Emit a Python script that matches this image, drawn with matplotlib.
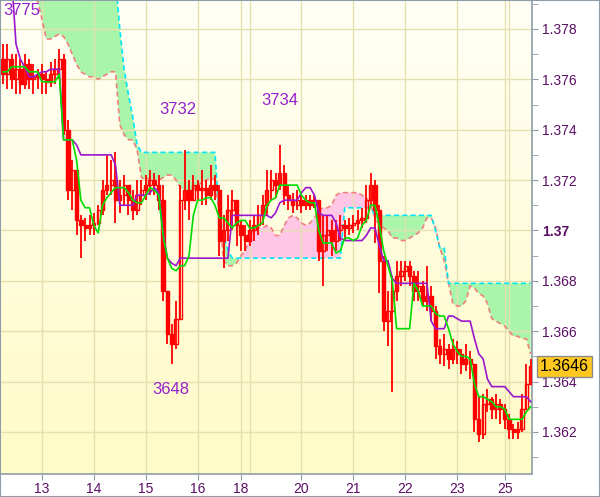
import numpy as np
import matplotlib.pyplot as plt
from matplotlib.transforms import blended_transform_factory
from matplotlib.colors import LinearSegmentedColormap
from matplotlib.patches import Rectangle

plt.rcParams['font.family'] = ['Liberation Sans', 'DejaVu Sans']

# trading days on screen and how many 2-hour bars each one has
days = [12, 13, 14, 15, 16, 18, 19, 20, 21, 22, 23, 25, 26]
bars_per_day = [9, 12, 12, 12, 10, 2, 12, 12, 12, 12, 11, 1, 6]
shown_days = [13, 14, 15, 16, 18, 20, 21, 22, 23, 25]

first_open = 1.3768
close = [
    1.3762, 1.3768, 1.3760, 1.3764, 1.3758, 1.3766, 1.3760, 1.3761, 1.3762, 1.3760,
    1.3759, 1.3762, 1.3764, 1.3768, 1.3740, 1.3716, 1.3724, 1.3704, 1.3702, 1.3701,
    1.3702, 1.3703, 1.3708, 1.3716, 1.3718, 1.3720, 1.3712, 1.3714, 1.3718, 1.3712,
    1.3708, 1.3714, 1.3716, 1.3718, 1.3720, 1.3718, 1.3712, 1.3676, 1.3659, 1.3655,
    1.3665, 1.3712, 1.3716, 1.3712, 1.3718, 1.3716, 1.3717, 1.3714, 1.3718, 1.3716,
    1.3696, 1.3700, 1.3708, 1.3712, 1.3702, 1.3698, 1.3696, 1.3700, 1.3702, 1.3706,
    1.3710, 1.3716, 1.3720, 1.3718, 1.3723, 1.3714, 1.3712, 1.3710, 1.3712, 1.3710,
    1.3712, 1.3710, 1.3712, 1.3692, 1.3698, 1.3700, 1.3696, 1.3700, 1.3702, 1.3701,
    1.3702, 1.3703, 1.3704, 1.3705, 1.3712, 1.3718, 1.3708, 1.3688, 1.3664, 1.3668,
    1.3676, 1.3682, 1.3684, 1.3686, 1.3682, 1.3676, 1.3678, 1.3672, 1.3674, 1.3668,
    1.3654, 1.3651, 1.3653, 1.3649, 1.3653, 1.3651, 1.3647, 1.3649, 1.3647, 1.3625,
    1.3619, 1.3631, 1.3633, 1.3629, 1.3631, 1.3629, 1.3625, 1.3621, 1.3620, 1.3621,
    1.3629, 1.3639, 1.3646]
high = [
    1.3774, 1.3774, 1.3770, 1.3770, 1.3768, 1.3770, 1.3768, 1.3766, 1.3764, 1.3766,
    1.3763, 1.3767, 1.3768, 1.3772, 1.3770, 1.3744, 1.3728, 1.3722, 1.3706, 1.3705,
    1.3706, 1.3707, 1.3710, 1.3720, 1.3730, 1.3728, 1.3731, 1.3720, 1.3722, 1.3718,
    1.3716, 1.3720, 1.3720, 1.3722, 1.3724, 1.3723, 1.3722, 1.3718, 1.3676, 1.3663,
    1.3672, 1.3718, 1.3732, 1.3720, 1.3722, 1.3720, 1.3724, 1.3720, 1.3726, 1.3722,
    1.3718, 1.3706, 1.3714, 1.3716, 1.3712, 1.3704, 1.3702, 1.3704, 1.3706, 1.3710,
    1.3714, 1.3724, 1.3724, 1.3723, 1.3734, 1.3726, 1.3718, 1.3715, 1.3716, 1.3714,
    1.3714, 1.3714, 1.3714, 1.3712, 1.3706, 1.3706, 1.3704, 1.3704, 1.3706, 1.3704,
    1.3705, 1.3706, 1.3708, 1.3709, 1.3718, 1.3723, 1.3720, 1.3710, 1.3690, 1.3676,
    1.3682, 1.3688, 1.3688, 1.3688, 1.3688, 1.3684, 1.3684, 1.3680, 1.3686, 1.3678,
    1.3670, 1.3657, 1.3659, 1.3655, 1.3657, 1.3656, 1.3653, 1.3655, 1.3652, 1.3647,
    1.3634, 1.3635, 1.3637, 1.3634, 1.3635, 1.3633, 1.3631, 1.3627, 1.3623, 1.3624,
    1.3635, 1.3647, 1.3649]
low = [
    1.3758, 1.3756, 1.3756, 1.3754, 1.3754, 1.3756, 1.3756, 1.3754, 1.3756, 1.3754,
    1.3754, 1.3757, 1.3758, 1.3760, 1.3738, 1.3712, 1.3708, 1.3698, 1.3689, 1.3696,
    1.3698, 1.3698, 1.3702, 1.3706, 1.3714, 1.3714, 1.3703, 1.3707, 1.3710, 1.3706,
    1.3704, 1.3706, 1.3710, 1.3712, 1.3714, 1.3714, 1.3708, 1.3672, 1.3655, 1.3647,
    1.3653, 1.3665, 1.3708, 1.3704, 1.3712, 1.3712, 1.3710, 1.3710, 1.3712, 1.3712,
    1.3690, 1.3685, 1.3696, 1.3700, 1.3694, 1.3692, 1.3692, 1.3694, 1.3696, 1.3698,
    1.3702, 1.3706, 1.3712, 1.3713, 1.3716, 1.3710, 1.3708, 1.3707, 1.3708, 1.3707,
    1.3708, 1.3708, 1.3709, 1.3688, 1.3678, 1.3692, 1.3690, 1.3692, 1.3696, 1.3696,
    1.3698, 1.3699, 1.3700, 1.3701, 1.3703, 1.3710, 1.3695, 1.3675, 1.3660, 1.3654,
    1.3636, 1.3672, 1.3678, 1.3680, 1.3678, 1.3672, 1.3672, 1.3670, 1.3668, 1.3664,
    1.3649, 1.3647, 1.3646, 1.3645, 1.3647, 1.3647, 1.3643, 1.3644, 1.3641, 1.3620,
    1.3616, 1.3617, 1.3628, 1.3625, 1.3625, 1.3623, 1.3621, 1.3617, 1.3617, 1.3617,
    1.3620, 1.3629, 1.3639]

# ichimoku lines
tenkan = [
    1.3763, 1.3763, 1.3765, 1.3765, 1.3765, 1.3765, 1.3763, 1.3763, 1.3763, 1.3759,
    1.3759, 1.3759, 1.3759, 1.3762, 1.3736, 1.3736, 1.3736, 1.3728, 1.3712, 1.3709,
    1.3709, 1.3702, 1.3699, 1.3710, 1.3713, 1.3715, 1.3717, 1.3717, 1.3717, 1.3715,
    1.3712, 1.3711, 1.3711, 1.3714, 1.3717, 1.3716, 1.3714, 1.3698, 1.3689, 1.3685,
    1.3684, 1.3686, 1.3686, 1.3690, 1.3706, 1.3712, 1.3712, 1.3713, 1.3713, 1.3710,
    1.3705, 1.3705, 1.3703, 1.3701, 1.3703, 1.3704, 1.3704, 1.3701, 1.3701, 1.3702,
    1.3703, 1.3710, 1.3712, 1.3713, 1.3718, 1.3718, 1.3718, 1.3718, 1.3718, 1.3714,
    1.3712, 1.3711, 1.3711, 1.3700, 1.3695, 1.3695, 1.3695, 1.3691, 1.3692, 1.3697,
    1.3697, 1.3696, 1.3697, 1.3702, 1.3704, 1.3710, 1.3710, 1.3702, 1.3692, 1.3686,
    1.3680, 1.3661, 1.3661, 1.3661, 1.3661, 1.3679, 1.3676, 1.3670, 1.3670, 1.3670,
    1.3667, 1.3666, 1.3666, 1.3661, 1.3655, 1.3652, 1.3650, 1.3650, 1.3649, 1.3639,
    1.3634, 1.3634, 1.3633, 1.3632, 1.3630, 1.3630, 1.3629, 1.3625, 1.3625, 1.3625,
    1.3625, 1.3628, 1.3630]
kijun = [
    1.3800, 1.3800, 1.3800, 1.3774, 1.3768, 1.3765, 1.3761, 1.3761, 1.3762, 1.3763,
    1.3763, 1.3764, 1.3764, 1.3764, 1.3736, 1.3736, 1.3736, 1.3734, 1.3730, 1.3730,
    1.3730, 1.3730, 1.3730, 1.3730, 1.3730, 1.3730, 1.3726, 1.3710, 1.3710, 1.3710,
    1.3710, 1.3714, 1.3714, 1.3714, 1.3715, 1.3717, 1.3715, 1.3699, 1.3689, 1.3687,
    1.3686, 1.3689, 1.3689, 1.3689, 1.3689, 1.3689, 1.3689, 1.3689, 1.3689, 1.3689,
    1.3689, 1.3689, 1.3689, 1.3706, 1.3706, 1.3706, 1.3706, 1.3706, 1.3706, 1.3706,
    1.3706, 1.3706, 1.3705, 1.3707, 1.3711, 1.3712, 1.3712, 1.3712, 1.3712, 1.3715,
    1.3717, 1.3717, 1.3714, 1.3707, 1.3706, 1.3706, 1.3706, 1.3703, 1.3697, 1.3696,
    1.3696, 1.3696, 1.3696, 1.3696, 1.3698, 1.3701, 1.3701, 1.3694, 1.3688, 1.3688,
    1.3681, 1.3679, 1.3679, 1.3679, 1.3679, 1.3679, 1.3679, 1.3679, 1.3679, 1.3664,
    1.3661, 1.3661, 1.3661, 1.3666, 1.3666, 1.3665, 1.3664, 1.3664, 1.3664, 1.3657,
    1.3651, 1.3649, 1.3641, 1.3638, 1.3638, 1.3638, 1.3638, 1.3636, 1.3634, 1.3634,
    1.3634, 1.3634, 1.3632]
span_a = [
    1.3800, 1.3800, 1.3800, 1.3800, 1.3800, 1.3800, 1.3800, 1.3800, 1.3791, 1.3784,
    1.3776, 1.3776, 1.3777, 1.3778, 1.3777, 1.3774, 1.3770, 1.3766, 1.3763, 1.3762,
    1.3761, 1.3761, 1.3760, 1.3761, 1.3762, 1.3763, 1.3763, 1.3742, 1.3738, 1.3736,
    1.3736, 1.3732, 1.3721, 1.3720, 1.3721, 1.3719, 1.3720, 1.3721, 1.3722, 1.3722,
    1.3720, 1.3717, 1.3716, 1.3715, 1.3716, 1.3718, 1.3719, 1.3720, 1.3721, 1.3720,
    1.3706, 1.3688, 1.3686, 1.3686, 1.3687, 1.3690, 1.3692, 1.3697, 1.3701, 1.3701,
    1.3701, 1.3702, 1.3701, 1.3698, 1.3698, 1.3702, 1.3705, 1.3706, 1.3705, 1.3703,
    1.3702, 1.3703, 1.3705, 1.3708, 1.3709, 1.3709, 1.3710, 1.3714, 1.3715, 1.3715,
    1.3715, 1.3715, 1.3715, 1.3714, 1.3713, 1.3710, 1.3705, 1.3702, 1.3701, 1.3700,
    1.3697, 1.3697, 1.3696, 1.3696, 1.3697, 1.3698, 1.3699, 1.3701, 1.3705, 1.3705,
    1.3701, 1.3693, 1.3688, 1.3679, 1.3671, 1.3670, 1.3670, 1.3672, 1.3678, 1.3677,
    1.3675, 1.3674, 1.3671, 1.3665, 1.3664, 1.3663, 1.3662, 1.3660, 1.3658, 1.3658,
    1.3657, 1.3657, 1.3651]
span_b = [
    1.3800, 1.3800, 1.3800, 1.3800, 1.3800, 1.3800, 1.3800, 1.3800, 1.3800, 1.3800,
    1.3800, 1.3800, 1.3800, 1.3800, 1.3800, 1.3800, 1.3800, 1.3800, 1.3800, 1.3800,
    1.3800, 1.3800, 1.3800, 1.3800, 1.3800, 1.3800, 1.3800, 1.3780, 1.3764, 1.3754,
    1.3745, 1.3734, 1.3731, 1.3731, 1.3731, 1.3731, 1.3731, 1.3731, 1.3731, 1.3731,
    1.3731, 1.3731, 1.3731, 1.3731, 1.3731, 1.3731, 1.3731, 1.3731, 1.3731, 1.3731,
    1.3706, 1.3698, 1.3692, 1.3689, 1.3689, 1.3689, 1.3689, 1.3689, 1.3689, 1.3689,
    1.3689, 1.3689, 1.3689, 1.3689, 1.3689, 1.3689, 1.3689, 1.3689, 1.3689, 1.3689,
    1.3689, 1.3689, 1.3689, 1.3689, 1.3689, 1.3689, 1.3689, 1.3689, 1.3689, 1.3709,
    1.3709, 1.3709, 1.3709, 1.3709, 1.3709, 1.3709, 1.3706, 1.3706, 1.3706, 1.3706,
    1.3706, 1.3706, 1.3706, 1.3706, 1.3706, 1.3706, 1.3706, 1.3706, 1.3706, 1.3706,
    1.3700, 1.3693, 1.3693, 1.3679, 1.3679, 1.3679, 1.3679, 1.3679, 1.3679, 1.3679,
    1.3679, 1.3679, 1.3679, 1.3679, 1.3679, 1.3679, 1.3679, 1.3679, 1.3679, 1.3679,
    1.3679, 1.3679, 1.3679]

marks = ['3775', '3732', '3734', '3648']
mark_bar = [0.0, 36.2, 59.8, 34.6]
mark_price = [1.37875, 1.37482, 1.37514, 1.36367]

# colours
bg_top, bg_bottom = '#FFFFF6', '#FFFBC6'
grid_col = '#E4E0B0'
axis_col = '#8E9DA8'
label_col = '#5A0F64'
candle_col = '#FF0000'

n = len(close)
x = np.arange(n)
opens = np.array([first_open] + close[:-1])
close = np.array(close)
a = np.array(span_a)
b = np.array(span_b)

fig = plt.figure(figsize=(6.0, 4.97), dpi=100)
ax = fig.add_axes([0, 23 / 497, 532 / 600, 474 / 497])

grad = LinearSegmentedColormap.from_list('bg', [bg_bottom, bg_top])
ax.imshow(np.linspace(0, 1, 256).reshape(-1, 1)[::-1], cmap=grad, aspect='auto',
          extent=[0, 1, 0, 1], transform=ax.transAxes, zorder=0)

# cloud
ax.fill_between(x, a, b, where=b >= a, interpolate=True, color='#A9F5A9', lw=0, zorder=1)
ax.fill_between(x, a, b, where=a >= b, interpolate=True, color='#FFC6E6', lw=0, zorder=1)

# grid
day_start = np.concatenate([[0], np.cumsum(bars_per_day)[:-1]])
for d, s in zip(days, day_start):
    if d != days[0]:
        ax.axvline(s, color=grid_col, lw=1, zorder=1.5)
y_major = np.round(np.arange(1.362, 1.3781, 0.002), 3)
y_minor = np.round(np.arange(1.361, 1.3791, 0.001), 3)
for v in y_major:
    ax.axhline(v, color=grid_col, lw=1, zorder=1.5)

ax.plot(x, a, color='#F08080', lw=1.2, ls=(0, (3, 2)), zorder=2)
ax.plot(x, b, color='#00E5F5', lw=1.2, ls=(0, (3, 2)), zorder=2)

# candles
ax.vlines(x, low, high, color=candle_col, lw=1.3, zorder=3)
bull = close >= opens
face = ['none' if u else candle_col for u in bull]
ax.bar(x, close - opens, bottom=opens, width=0.75, color=face,
       edgecolor=candle_col, lw=1.0, zorder=3)

ax.plot(x, kijun, color='#9A16CC', lw=1.2, zorder=4)
ax.plot(x, tenkan, color='#00DD00', lw=1.2, zorder=4)

for t, bx, py in zip(marks, mark_bar, mark_price):
    ax.text(bx, py, t, color='#9420D0', fontsize=12, ha='left', va='center', zorder=5)

ax.set_xlim(-0.7, 122.3)
ax.set_ylim(1.36033, 1.37915)

# axes styling
ax.yaxis.tick_right()
ax.set_yticks(y_major)
ax.set_yticks(y_minor, minor=True)
ax.set_yticklabels(['{:g}'.format(v) for v in y_major])
for lab in ax.get_yticklabels():
    if lab.get_text() == '1.37':
        lab.set_fontweight('bold')
ax.tick_params(axis='y', which='both', direction='out', length=4, color=axis_col,
               labelcolor=label_col, labelsize=10, pad=3)
tick_pos = [s for d, s in zip(days, day_start) if d in shown_days]
ax.set_xticks(tick_pos)
ax.set_xticklabels([str(d) for d in shown_days])
ax.tick_params(axis='x', direction='out', length=4, color=axis_col,
               labelcolor=label_col, labelsize=10, pad=2)
for side in ['left', 'top']:
    ax.spines[side].set_visible(False)
for side in ['right', 'bottom']:
    ax.spines[side].set_color(axis_col)
    ax.spines[side].set_linewidth(1.2)

# last price tag
tr = blended_transform_factory(ax.transAxes, ax.transData)
ax.text(1.015, close[-1], '{:.4f}'.format(close[-1]), transform=tr, ha='left', va='center',
        fontsize=11.5, color='black', clip_on=False, zorder=6,
        bbox=dict(boxstyle='square,pad=0.2', fc='#FFC81E', ec='#8C8C8C', lw=1))

fig.patches.append(Rectangle((0, 0), 1, 1, transform=fig.transFigure, fill=False,
                             ec=axis_col, lw=1.5, zorder=10))

fig.savefig('out.png', dpi=100, facecolor='white')
